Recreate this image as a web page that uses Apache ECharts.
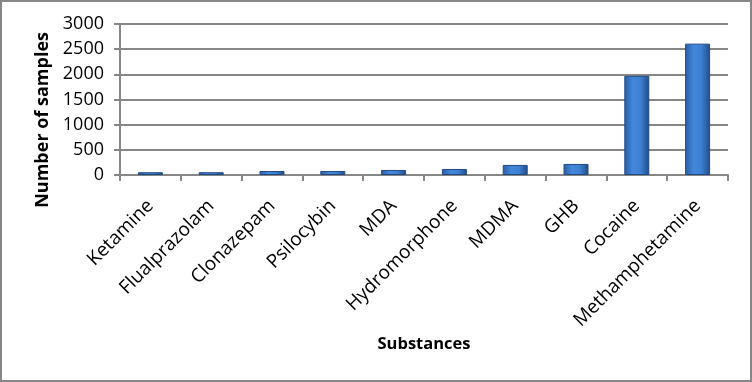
<!DOCTYPE html>
<html><head><meta charset="utf-8">
<script src="https://cdn.jsdelivr.net/npm/echarts@6/dist/echarts.min.js"></script>
<style>html,body{margin:0;padding:0;background:#fff}#c{width:752px;height:382px;box-sizing:border-box;border:2px solid #868686}</style>
</head><body><div id="c"></div>
<script>
const categories = ["Ketamine","Flualprazolam","Clonazepam","Psilocybin","MDA","Hydromorphone","MDMA","GHB","Cocaine","Methamphetamine"];
const samples = [55, 55, 80, 80, 100, 120, 200, 220, 1970, 2610];
const yTicks = [0, 500, 1000, 1500, 2000, 2500, 3000];
const yTitle = 'Number of samples';
const xTitle = 'Substances';

const chart = echarts.init(document.getElementById('c'), null, {renderer:'canvas'});
const grayLine = '#868686';
chart.setOption({
  animation:false,
  grid:{left:118, right:22, top:22, bottom:205},
  graphic:[{
    type:'text', left:32, top:30, rotation:Math.PI/2,
    style:{text:yTitle, font:'bold 18px "Open Sans"', fill:'#000'}
  }],
  xAxis:{
    type:'category', data:categories, boundaryGap:true,
    axisLine:{lineStyle:{color:grayLine, width:2}},
    axisTick:{show:true, alignWithLabel:false, length:6, lineStyle:{color:grayLine, width:2}},
    axisLabel:{rotate:45, interval:0, fontFamily:'Open Sans', fontSize:19, color:'#000', margin:28},
    name:xTitle, nameLocation:'middle', nameGap:161,
    nameTextStyle:{fontFamily:'Open Sans', fontWeight:'bold', fontSize:16.5, color:'#000'}
  },
  yAxis:{
    type:'value', min:yTicks[0], max:yTicks[yTicks.length-1], interval:500,
    axisLine:{show:true, lineStyle:{color:grayLine, width:2}},
    axisTick:{show:true, length:6, lineStyle:{color:grayLine, width:2}},
    splitLine:{lineStyle:{color:grayLine, width:2}},
    axisLabel:{fontFamily:'Open Sans', fontSize:18, color:'#000', margin:16, formatter:v=>String(v)}
  },
  series:[{
    type:'bar', data:samples, barWidth:25,
    itemStyle:{
      color:new echarts.graphic.LinearGradient(0,0,1,0,[
        {offset:0,color:'#2a5da3'},{offset:0.35,color:'#4388dc'},{offset:0.65,color:'#3d80d2'},{offset:1,color:'#224b87'}
      ]),
      borderColor:'#234a80', borderWidth:1
    }
  }]
});
</script></body></html>
